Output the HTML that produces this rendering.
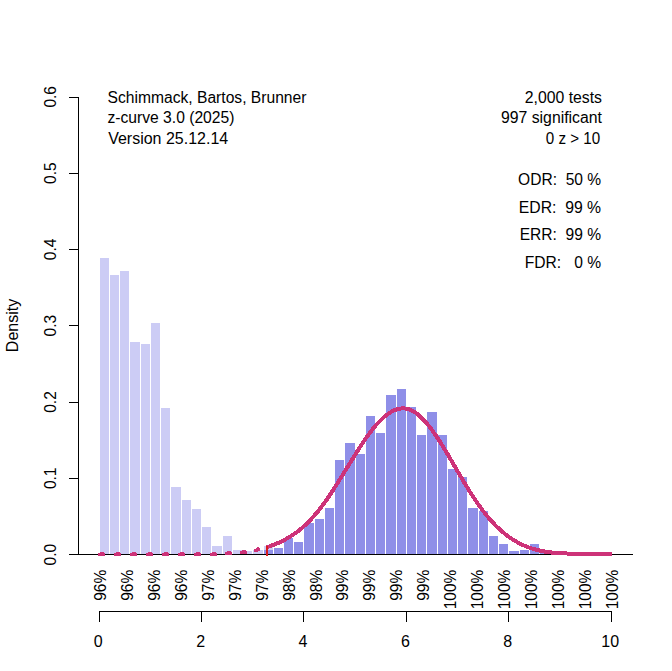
<!DOCTYPE html><html><head><meta charset="utf-8"><title>z-curve</title><style>html,body{margin:0;padding:0;background:#fff}svg{display:block}text{font-family:"Liberation Sans",sans-serif;font-size:16px;fill:#000}</style></head><body>
<svg width="672" height="671" viewBox="0 0 672 671">
<rect width="672" height="671" fill="#fff"/>
<g shape-rendering="crispEdges">
<rect x="100" y="258" width="9" height="296" fill="#CCCCF5"/>
<rect x="110" y="275" width="9" height="279" fill="#CCCCF5"/>
<rect x="120" y="271" width="9" height="283" fill="#CCCCF5"/>
<rect x="130" y="342" width="10" height="212" fill="#CCCCF5"/>
<rect x="141" y="344" width="9" height="210" fill="#CCCCF5"/>
<rect x="151" y="323" width="9" height="231" fill="#CCCCF5"/>
<rect x="161" y="408" width="9" height="146" fill="#CCCCF5"/>
<rect x="171" y="487" width="10" height="67" fill="#CCCCF5"/>
<rect x="182" y="500" width="9" height="54" fill="#CCCCF5"/>
<rect x="192" y="509" width="9" height="45" fill="#CCCCF5"/>
<rect x="202" y="527" width="9" height="27" fill="#CCCCF5"/>
<rect x="212" y="546" width="10" height="8" fill="#CCCCF5"/>
<rect x="223" y="536" width="9" height="18" fill="#CCCCF5"/>
<rect x="233" y="550" width="9" height="4" fill="#CCCCF5"/>
<rect x="243" y="551" width="9" height="3" fill="#CCCCF5"/>
<rect x="253" y="550" width="10" height="4" fill="#CCCCF5"/>
<rect x="264" y="546" width="9" height="8" fill="#CCCCF5"/>
<rect x="264" y="550" width="9" height="4" fill="#8F8FE8"/>
<rect x="274" y="548" width="9" height="6" fill="#8F8FE8"/>
<rect x="284" y="538" width="9" height="16" fill="#8F8FE8"/>
<rect x="294" y="542" width="9" height="12" fill="#8F8FE8"/>
<rect x="304" y="523" width="10" height="31" fill="#8F8FE8"/>
<rect x="315" y="519" width="9" height="35" fill="#8F8FE8"/>
<rect x="325" y="508" width="9" height="46" fill="#8F8FE8"/>
<rect x="335" y="460" width="9" height="94" fill="#8F8FE8"/>
<rect x="345" y="443" width="10" height="111" fill="#8F8FE8"/>
<rect x="356" y="454" width="9" height="100" fill="#8F8FE8"/>
<rect x="366" y="416" width="9" height="138" fill="#8F8FE8"/>
<rect x="376" y="433" width="9" height="121" fill="#8F8FE8"/>
<rect x="386" y="395" width="10" height="159" fill="#8F8FE8"/>
<rect x="397" y="389" width="9" height="165" fill="#8F8FE8"/>
<rect x="407" y="407" width="9" height="147" fill="#8F8FE8"/>
<rect x="417" y="435" width="9" height="119" fill="#8F8FE8"/>
<rect x="427" y="412" width="10" height="142" fill="#8F8FE8"/>
<rect x="438" y="435" width="9" height="119" fill="#8F8FE8"/>
<rect x="448" y="469" width="9" height="85" fill="#8F8FE8"/>
<rect x="458" y="477" width="9" height="77" fill="#8F8FE8"/>
<rect x="468" y="508" width="10" height="46" fill="#8F8FE8"/>
<rect x="479" y="511" width="9" height="43" fill="#8F8FE8"/>
<rect x="489" y="536" width="9" height="18" fill="#8F8FE8"/>
<rect x="499" y="544" width="9" height="10" fill="#8F8FE8"/>
<rect x="509" y="551" width="10" height="3" fill="#8F8FE8"/>
<rect x="520" y="550" width="9" height="4" fill="#8F8FE8"/>
<rect x="530" y="544" width="9" height="10" fill="#8F8FE8"/>
<rect x="540" y="553" width="9" height="1" fill="#8F8FE8"/>
<rect x="69" y="554" width="564" height="1" fill="#000"/>
<rect x="78" y="97" width="1" height="458" fill="#000"/>
<rect x="69" y="554" width="10" height="1" fill="#000"/>
<rect x="69" y="478" width="10" height="1" fill="#000"/>
<rect x="69" y="402" width="10" height="1" fill="#000"/>
<rect x="69" y="325" width="10" height="1" fill="#000"/>
<rect x="69" y="249" width="10" height="1" fill="#000"/>
<rect x="69" y="173" width="10" height="1" fill="#000"/>
<rect x="69" y="97" width="10" height="1" fill="#000"/>
<rect x="99" y="611" width="513" height="1" fill="#000"/>
<rect x="99" y="611" width="1" height="11" fill="#000"/>
<rect x="201" y="611" width="1" height="11" fill="#000"/>
<rect x="303" y="611" width="1" height="11" fill="#000"/>
<rect x="406" y="611" width="1" height="11" fill="#000"/>
<rect x="508" y="611" width="1" height="11" fill="#000"/>
<rect x="611" y="611" width="1" height="11" fill="#000"/>
</g>
<g fill="#CD3278" shape-rendering="crispEdges">
<rect x="98" y="553" width="7" height="3"/><rect x="100" y="552" width="4" height="1"/>
<rect x="114" y="553" width="7" height="3"/><rect x="116" y="552" width="4" height="1"/>
<rect x="130" y="553" width="7" height="3"/><rect x="132" y="552" width="4" height="1"/>
<rect x="146" y="553" width="7" height="3"/><rect x="148" y="552" width="4" height="1"/>
<rect x="162" y="553" width="7" height="3"/><rect x="164" y="552" width="4" height="1"/>
<rect x="178" y="553" width="7" height="3"/><rect x="180" y="552" width="4" height="1"/>
<rect x="194" y="553" width="7" height="3"/><rect x="196" y="552" width="4" height="1"/>
<rect x="210" y="553" width="7" height="3"/><rect x="212" y="552" width="4" height="1"/>
<rect x="225" y="552" width="7" height="3"/><rect x="227" y="551" width="4" height="1"/>
<rect x="240" y="551" width="7" height="3"/><rect x="242" y="550" width="4" height="1"/>
<rect x="257" y="547" width="2" height="1"/><rect x="256" y="548" width="4" height="1"/><rect x="254" y="549" width="6" height="2"/><rect x="254" y="551" width="4" height="1"/>
</g>
<polyline points="267.96,546.85 268.98,546.52 270.01,546.17 271.03,545.81 272.05,545.43 273.07,545.05 274.10,544.64 275.12,544.23 276.14,543.80 277.16,543.37 278.19,542.92 279.21,542.46 280.23,541.98 281.26,541.49 282.28,540.99 283.30,540.47 284.32,539.94 285.35,539.40 286.37,538.84 287.39,538.26 288.42,537.67 289.44,537.06 290.46,536.44 291.48,535.79 292.51,535.13 293.53,534.44 294.55,533.74 295.57,533.01 296.60,532.26 297.62,531.49 298.64,530.69 299.67,529.87 300.69,529.03 301.71,528.17 302.73,527.28 303.76,526.37 304.78,525.43 305.80,524.47 306.83,523.49 307.85,522.49 308.87,521.46 309.89,520.40 310.92,519.33 311.94,518.23 312.96,517.11 313.98,515.97 315.01,514.80 316.03,513.62 317.05,512.40 318.08,511.16 319.10,509.89 320.12,508.60 321.14,507.28 322.17,505.93 323.19,504.56 324.21,503.16 325.24,501.74 326.26,500.30 327.28,498.83 328.30,497.34 329.33,495.82 330.35,494.29 331.37,492.73 332.39,491.15 333.42,489.56 334.44,487.96 335.46,486.35 336.49,484.74 337.51,483.11 338.53,481.48 339.55,479.84 340.58,478.20 341.60,476.55 342.62,474.90 343.65,473.24 344.67,471.59 345.69,469.94 346.71,468.28 347.74,466.63 348.76,464.98 349.78,463.33 350.80,461.68 351.83,460.03 352.85,458.39 353.87,456.74 354.90,455.11 355.92,453.48 356.94,451.86 357.96,450.25 358.99,448.65 360.01,447.06 361.03,445.48 362.06,443.92 363.08,442.38 364.10,440.86 365.12,439.36 366.15,437.89 367.17,436.44 368.19,435.02 369.21,433.62 370.24,432.25 371.26,430.92 372.28,429.61 373.31,428.34 374.33,427.10 375.35,425.90 376.37,424.72 377.40,423.59 378.42,422.48 379.44,421.41 380.47,420.38 381.49,419.38 382.51,418.42 383.53,417.49 384.56,416.61 385.58,415.76 386.60,414.96 387.62,414.20 388.65,413.48 389.67,412.80 390.69,412.17 391.72,411.58 392.74,411.03 393.76,410.54 394.78,410.10 395.81,409.71 396.83,409.36 397.85,409.07 398.88,408.83 399.90,408.65 400.92,408.51 401.94,408.43 402.97,408.40 403.99,408.43 405.01,408.52 406.03,408.66 407.06,408.87 408.08,409.13 409.10,409.45 410.13,409.83 411.15,410.27 412.17,410.76 413.19,411.31 414.22,411.91 415.24,412.57 416.26,413.28 417.29,414.04 418.31,414.85 419.33,415.71 420.35,416.62 421.38,417.58 422.40,418.58 423.42,419.63 424.44,420.73 425.47,421.86 426.49,423.04 427.51,424.26 428.54,425.52 429.56,426.81 430.58,428.14 431.60,429.51 432.63,430.91 433.65,432.34 434.67,433.80 435.70,435.29 436.72,436.81 437.74,438.35 438.76,439.91 439.79,441.50 440.81,443.11 441.83,444.74 442.85,446.39 443.88,448.05 444.90,449.73 445.92,451.42 446.95,453.12 447.97,454.84 448.99,456.56 450.01,458.30 451.04,460.04 452.06,461.78 453.08,463.53 454.11,465.29 455.13,467.04 456.15,468.80 457.17,470.55 458.20,472.30 459.22,474.05 460.24,475.79 461.26,477.53 462.29,479.25 463.31,480.97 464.33,482.68 465.36,484.38 466.38,486.07 467.40,487.73 468.42,489.39 469.45,491.03 470.47,492.65 471.49,494.25 472.52,495.83 473.54,497.40 474.56,498.94 475.58,500.46 476.61,501.96 477.63,503.44 478.65,504.90 479.67,506.33 480.70,507.74 481.72,509.13 482.74,510.49 483.77,511.83 484.79,513.14 485.81,514.43 486.83,515.69 487.86,516.92 488.88,518.13 489.90,519.32 490.93,520.48 491.95,521.61 492.97,522.72 493.99,523.80 495.02,524.85 496.04,525.88 497.06,526.89 498.08,527.87 499.11,528.82 500.13,529.76 501.15,530.67 502.18,531.56 503.20,532.43 504.22,533.27 505.24,534.09 506.27,534.89 507.29,535.67 508.31,536.43 509.34,537.17 510.36,537.89 511.38,538.58 512.40,539.26 513.43,539.92 514.45,540.56 515.47,541.17 516.49,541.76 517.52,542.34 518.54,542.89 519.56,543.42 520.59,543.93 521.61,544.43 522.63,544.90 523.65,545.36 524.68,545.80 525.70,546.22 526.72,546.63 527.75,547.02 528.77,547.39 529.79,547.74 530.81,548.09 531.84,548.42 532.86,548.74 533.88,549.04 534.90,549.33 535.93,549.61 536.95,549.88 537.97,550.14 539.00,550.38 540.02,550.61 541.04,550.83 542.06,551.04 543.09,551.24 544.11,551.43 545.13,551.60 546.16,551.77 547.18,551.93 548.20,552.08 549.22,552.22 550.25,552.35 551.27,552.47 552.29,552.59 553.31,552.69 554.34,552.79 555.36,552.88 556.38,552.96 557.41,553.04 558.43,553.11 559.45,553.18 560.47,553.24 561.50,553.30 562.52,553.35 563.54,553.39 564.57,553.43 565.59,553.47 566.61,553.50 567.63,553.52 568.66,553.54 569.68,553.56 570.70,553.58 571.72,553.59 572.75,553.61 573.77,553.62 574.79,553.63 575.82,553.64 576.84,553.65 577.86,553.66 578.88,553.67 579.91,553.68 580.93,553.69 581.95,553.70 582.98,553.72 584.00,553.73 585.02,553.74 586.04,553.75 587.07,553.77 588.09,553.78 589.11,553.80 590.13,553.81 591.16,553.82 592.18,553.84 593.20,553.85 594.23,553.86 595.25,553.87 596.27,553.88 597.29,553.89 598.32,553.90 599.34,553.90 600.36,553.91 601.39,553.92 602.41,553.92 603.43,553.93 604.45,553.93 605.48,553.94 606.50,553.94 607.52,553.95 608.54,553.95 609.57,553.96 610.59,553.96" fill="none" stroke="#CD3278" stroke-width="4" stroke-linecap="round" stroke-linejoin="round" shape-rendering="crispEdges"/>
<rect x="266" y="546" width="2" height="10" fill="#D81C1C" shape-rendering="crispEdges"/>
<text x="107.6" y="102.7" textLength="198.8" lengthAdjust="spacingAndGlyphs">Schimmack, Bartos, Brunner</text>
<text x="107.5" y="122.8" textLength="126.9" lengthAdjust="spacingAndGlyphs">z-curve 3.0 (2025)</text>
<text x="108.2" y="143.5" textLength="120.0" lengthAdjust="spacingAndGlyphs">Version 25.12.14</text>
<text x="602.0" y="102.8" text-anchor="end" textLength="77.2" lengthAdjust="spacingAndGlyphs">2,000 tests</text>
<text x="601.9" y="122.7" text-anchor="end" textLength="100.9" lengthAdjust="spacingAndGlyphs">997 significant</text>
<text x="600.2" y="143.5" text-anchor="end" textLength="54.4" lengthAdjust="spacingAndGlyphs">0 z &gt; 10</text>
<text x="601.1" y="184.6" text-anchor="end" xml:space="preserve" textLength="83.0" lengthAdjust="spacingAndGlyphs">ODR:  50 %</text>
<text x="601.1" y="212.8" text-anchor="end" xml:space="preserve" textLength="82.3" lengthAdjust="spacingAndGlyphs">EDR:  99 %</text>
<text x="601.1" y="239.8" text-anchor="end" xml:space="preserve" textLength="81.4" lengthAdjust="spacingAndGlyphs">ERR:  99 %</text>
<text x="601.1" y="267.8" text-anchor="end" xml:space="preserve" textLength="76.3" lengthAdjust="spacingAndGlyphs">FDR:   0 %</text>
<text transform="translate(56,554.6) rotate(-90)" text-anchor="middle" textLength="21.6" lengthAdjust="spacingAndGlyphs">0.0</text>
<text transform="translate(56,478.3) rotate(-90)" text-anchor="middle" textLength="21.6" lengthAdjust="spacingAndGlyphs">0.1</text>
<text transform="translate(56,402.0) rotate(-90)" text-anchor="middle" textLength="21.6" lengthAdjust="spacingAndGlyphs">0.2</text>
<text transform="translate(56,325.7) rotate(-90)" text-anchor="middle" textLength="21.6" lengthAdjust="spacingAndGlyphs">0.3</text>
<text transform="translate(56,249.4) rotate(-90)" text-anchor="middle" textLength="21.6" lengthAdjust="spacingAndGlyphs">0.4</text>
<text transform="translate(56,173.1) rotate(-90)" text-anchor="middle" textLength="21.6" lengthAdjust="spacingAndGlyphs">0.5</text>
<text transform="translate(56,96.8) rotate(-90)" text-anchor="middle" textLength="21.6" lengthAdjust="spacingAndGlyphs">0.6</text>
<text transform="translate(18,325.5) rotate(-90)" text-anchor="middle">Density</text>
<text x="98.2" y="647" text-anchor="middle">0</text>
<text x="200.6" y="647" text-anchor="middle">2</text>
<text x="303.0" y="647" text-anchor="middle">4</text>
<text x="405.4" y="647" text-anchor="middle">6</text>
<text x="507.8" y="647" text-anchor="middle">8</text>
<text x="610.2" y="647" text-anchor="middle">10</text>
<text transform="translate(105.9,569.7) rotate(-90)" text-anchor="end" textLength="31.1" lengthAdjust="spacingAndGlyphs">96%</text>
<text transform="translate(132.8,569.7) rotate(-90)" text-anchor="end" textLength="31.1" lengthAdjust="spacingAndGlyphs">96%</text>
<text transform="translate(159.8,569.7) rotate(-90)" text-anchor="end" textLength="31.1" lengthAdjust="spacingAndGlyphs">96%</text>
<text transform="translate(186.7,569.7) rotate(-90)" text-anchor="end" textLength="31.1" lengthAdjust="spacingAndGlyphs">96%</text>
<text transform="translate(213.7,569.7) rotate(-90)" text-anchor="end" textLength="31.1" lengthAdjust="spacingAndGlyphs">97%</text>
<text transform="translate(240.6,569.7) rotate(-90)" text-anchor="end" textLength="31.1" lengthAdjust="spacingAndGlyphs">97%</text>
<text transform="translate(267.6,569.7) rotate(-90)" text-anchor="end" textLength="31.1" lengthAdjust="spacingAndGlyphs">97%</text>
<text transform="translate(294.5,569.7) rotate(-90)" text-anchor="end" textLength="31.1" lengthAdjust="spacingAndGlyphs">98%</text>
<text transform="translate(321.5,569.7) rotate(-90)" text-anchor="end" textLength="31.1" lengthAdjust="spacingAndGlyphs">98%</text>
<text transform="translate(348.4,569.7) rotate(-90)" text-anchor="end" textLength="31.1" lengthAdjust="spacingAndGlyphs">99%</text>
<text transform="translate(375.4,569.7) rotate(-90)" text-anchor="end" textLength="31.1" lengthAdjust="spacingAndGlyphs">99%</text>
<text transform="translate(402.3,569.7) rotate(-90)" text-anchor="end" textLength="31.1" lengthAdjust="spacingAndGlyphs">99%</text>
<text transform="translate(429.3,569.7) rotate(-90)" text-anchor="end" textLength="31.1" lengthAdjust="spacingAndGlyphs">99%</text>
<text transform="translate(456.2,569.7) rotate(-90)" text-anchor="end" textLength="39.6" lengthAdjust="spacingAndGlyphs">100%</text>
<text transform="translate(483.2,569.7) rotate(-90)" text-anchor="end" textLength="39.6" lengthAdjust="spacingAndGlyphs">100%</text>
<text transform="translate(510.1,569.7) rotate(-90)" text-anchor="end" textLength="39.6" lengthAdjust="spacingAndGlyphs">100%</text>
<text transform="translate(537.1,569.7) rotate(-90)" text-anchor="end" textLength="39.6" lengthAdjust="spacingAndGlyphs">100%</text>
<text transform="translate(564.0,569.7) rotate(-90)" text-anchor="end" textLength="39.6" lengthAdjust="spacingAndGlyphs">100%</text>
<text transform="translate(591.0,569.7) rotate(-90)" text-anchor="end" textLength="39.6" lengthAdjust="spacingAndGlyphs">100%</text>
<text transform="translate(617.9,569.7) rotate(-90)" text-anchor="end" textLength="39.6" lengthAdjust="spacingAndGlyphs">100%</text>
</svg></body></html>
